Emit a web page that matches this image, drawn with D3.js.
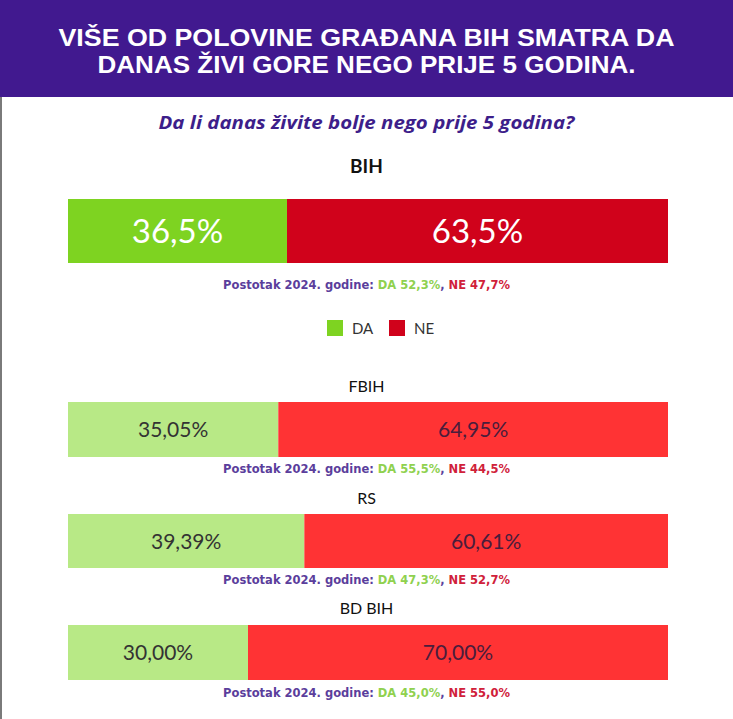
<!DOCTYPE html>
<html><head><meta charset="utf-8">
<script src="https://cdn.jsdelivr.net/npm/d3@7"></script>
<style>
html,body{margin:0;padding:0;background:#fff;}
svg{display:block;}
</style></head>
<body>
<svg id="chart" width="733" height="719"></svg>
<script>
// ---- data ----
const titleLines = ["VIŠE OD POLOVINE GRAĐANA BIH SMATRA DA", "DANAS ŽIVI GORE NEGO PRIJE 5 GODINA."];
const subtitle = "Da li danas živite bolje nego prije 5 godina?";
const regions = ["BIH", "FBIH", "RS", "BD BIH"];
const daValues = [36.5, 35.05, 39.39, 30.00];
const neValues = [63.5, 64.95, 60.61, 70.00];
const daLabels = ["36,5%", "35,05%", "39,39%", "30,00%"];
const neLabels = ["63,5%", "64,95%", "60,61%", "70,00%"];
const da2024 = ["52,3%", "55,5%", "47,3%", "45,0%"];
const ne2024 = ["47,7%", "44,5%", "52,7%", "55,0%"];
const legendItems = ["DA", "NE"];

// ---- layout ----
const svg = d3.select("#chart");
const W = 733;
const x = d3.scaleLinear().domain([0, 100]).range([68, 668]);

svg.append("rect").attr("x",0).attr("y",0).attr("width",W).attr("height",97).attr("fill","#41198f");
svg.append("rect").attr("x",0).attr("y",97).attr("width",2).attr("height",622).attr("fill","#7a7a7a");

const titleY = [46, 73];
const titleW = [616, 538];
titleLines.forEach((t,i)=>{
  svg.append("text").attr("x",W/2).attr("y",titleY[i]).attr("text-anchor","middle")
    .attr("font-family","Liberation Sans, Arial, sans-serif").attr("font-weight",700).attr("font-size",23)
    .attr("fill","#fff").attr("textLength",titleW[i]).attr("lengthAdjust","spacingAndGlyphs").text(t);
});
svg.append("text").attr("x",W/2).attr("y",129).attr("text-anchor","middle")
  .attr("font-family","Open Sans").attr("font-weight",700).attr("font-style","italic").attr("font-size",18)
  .attr("fill","#3d1e8a").attr("textLength",416).attr("lengthAdjust","spacingAndGlyphs").text(subtitle);

// rows config
const rows = [
  {label:173, top:199, h:64, ann:289, big:true},
  {label:392, top:402, h:55, ann:473, big:false},
  {label:504, top:514, h:54, ann:584, big:false},
  {label:614, top:625, h:55, ann:697, big:false}
];
const colorsBig = ["#7ed321", "#d0021b"];
const colorsSmall = ["#b8e986", "#ff3334"];

regions.forEach((r,i)=>{
  const c = rows[i];
  const g = svg.append("g");
  g.append("text").attr("x",W/2).attr("y",c.label).attr("text-anchor","middle")
    .attr("font-family","Lato").attr("font-size", c.big?19:16).attr("font-weight", c.big?700:400)
    .attr("fill","#111").text(r);
  const cols = c.big ? colorsBig : colorsSmall;
  const segs = [
    {x0:0, x1:daValues[i], lab:daLabels[i], col:cols[0], tc: c.big?"#fff":"#333"},
    {x0:daValues[i], x1:daValues[i]+neValues[i], lab:neLabels[i], col:cols[1], tc: c.big?"#fff":"#4a1d3c"}
  ];
  segs.forEach(s=>{
    g.append("rect").attr("x",x(s.x0)).attr("y",c.top).attr("width",x(s.x1)-x(s.x0)).attr("height",c.h).attr("fill",s.col);
    g.append("text").attr("x",(x(s.x0)+x(s.x1))/2).attr("y",c.top+c.h/2).attr("dy","0.36em")
      .attr("text-anchor","middle").attr("font-family","Lato").attr("font-size",c.big?33:21)
      .attr("font-weight",400).attr("fill",s.tc).text(s.lab);
  });
  const t = g.append("text").attr("x",W/2).attr("y",c.ann).attr("text-anchor","middle")
    .attr("font-family","DejaVu Sans").attr("font-weight",700).attr("font-size",11.5);
  t.append("tspan").attr("fill","#5b3e9c").text("Postotak 2024. godine: ");
  t.append("tspan").attr("fill","#8fd14f").text("DA " + da2024[i]);
  t.append("tspan").attr("fill","#5b3e9c").text(", ");
  t.append("tspan").attr("fill","#d0213a").text("NE " + ne2024[i]);
});

// legend
const lg = svg.append("g");
const legX = [327, 389];
legendItems.forEach((l,i)=>{
  lg.append("rect").attr("x",legX[i]).attr("y",320).attr("width",16).attr("height",16).attr("fill",colorsBig[i]);
  lg.append("text").attr("x",legX[i]+25).attr("y",334).attr("font-family","Lato").attr("font-size",15)
    .attr("fill","#333").text(l);
});
</script>
</body></html>
